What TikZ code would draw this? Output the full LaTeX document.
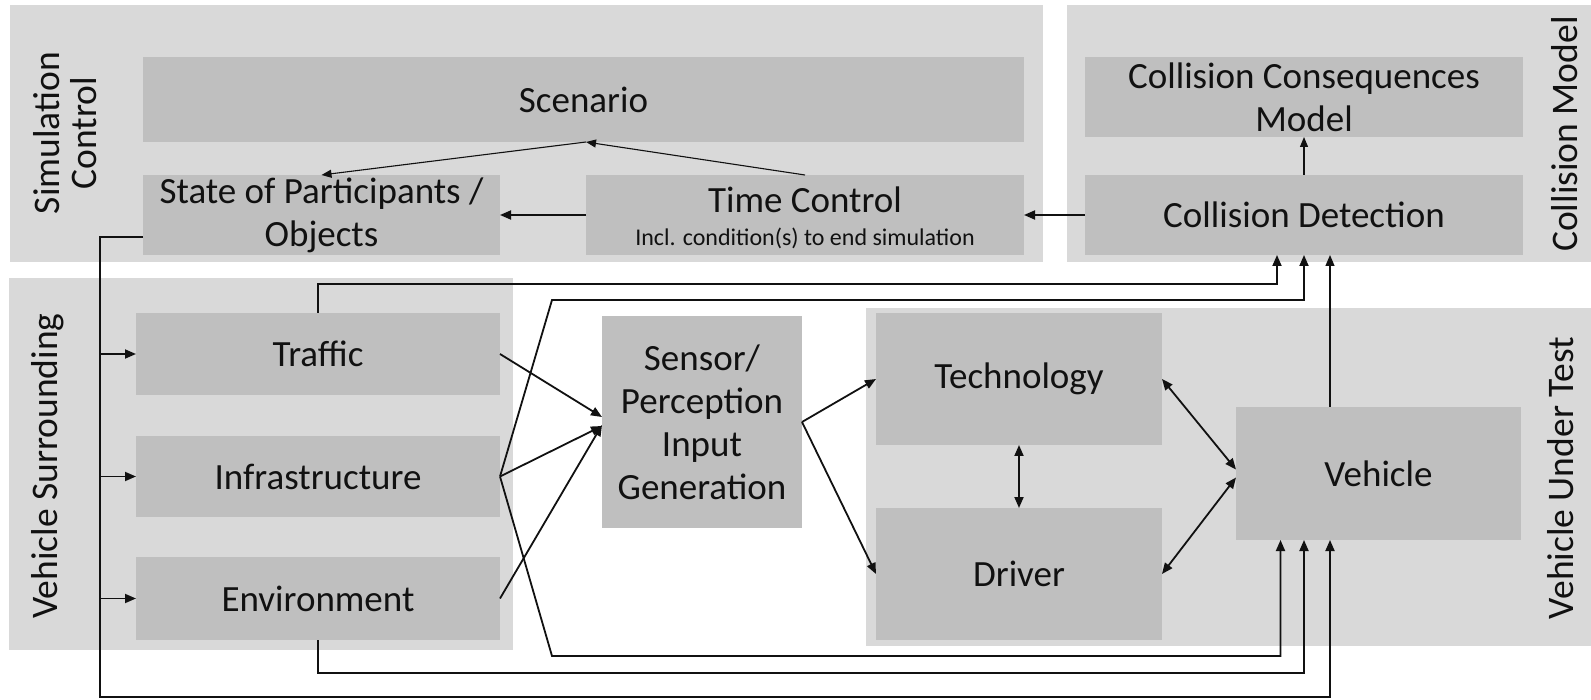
\documentclass[tikz,border=0pt]{standalone}
\usepackage{fontspec}
\setmainfont{Carlito}
\usetikzlibrary{arrows.meta,calc}
\definecolor{grp}{HTML}{D9D9D9}
\definecolor{boxc}{HTML}{BFBFBF}
\definecolor{ink}{HTML}{111111}
\begin{document}
\begin{tikzpicture}[x=1pt,y=-1pt,
  grpbox/.style={fill=grp,draw=none},
  blk/.style={fill=boxc,draw=none,inner sep=0pt,outer sep=0pt,align=center,text=ink,anchor=north west,font=\fontsize{37}{43}\selectfont},
  glabel/.style={rotate=90,align=center,text=ink,inner sep=0pt,font=\fontsize{37.5}{37}\selectfont},
  conn/.style={draw=ink,line width=1.8pt},
  thinconn/.style={draw=ink,line width=1.1pt},
  arr/.style={-{Triangle[length=11pt,width=9pt]}},
  sarr/.style={-{Triangle[length=10pt,width=8pt]}},
  darr/.style={{Triangle[length=11pt,width=9pt]}-{Triangle[length=11pt,width=9pt]}}
]
\useasboundingbox (0,0) rectangle (1591,700);
% groups
\path[grpbox] (10,5) rectangle (1043,262);
\path[grpbox] (1067,5) rectangle (1591,262);
\path[grpbox] (9,278) rectangle (513,650);
\path[grpbox] (866,308) rectangle (1591,646);
\node[glabel] (lsim) at (65,133) {Simulation\\Control};
\node[glabel] (lcol) at (1565,134) {Collision Model};
\node[glabel] (lsur) at (48,466) {Vehicle Surrounding};
\node[glabel] (lvut) at (1561,478) {Vehicle Under Test};
% blocks
\node[blk,minimum width=881pt,minimum height=85pt] (scen) at (143,57) {Scenario};
\node[blk,minimum width=357pt,minimum height=80pt] (sop) at (143,175) {State of Participants /\\Objects};
\node[blk,minimum width=438pt,minimum height=80pt,font=\fontsize{37}{33}\selectfont] (tc) at (586,175) {\rule{0pt}{32pt}Time Control\\{\fontsize{24}{33}\selectfont Incl. condition(s) to end simulation}};
\node[blk,minimum width=438pt,minimum height=80pt] (ccm) at (1085,57) {Collision Consequences\\Model};
\node[blk,minimum width=438pt,minimum height=80pt] (cd) at (1085,175) {Collision Detection};
\node[blk,minimum width=364pt,minimum height=82pt] (traf) at (136,313) {Traffic};
\node[blk,minimum width=364pt,minimum height=81pt] (infra) at (136,436) {Infrastructure};
\node[blk,minimum width=364pt,minimum height=83pt] (env) at (136,557) {Environment};
\node[blk,minimum width=200pt,minimum height=212pt] (sens) at (602,316) {Sensor/\\Perception\\Input\\Generation};
\node[blk,minimum width=286pt,minimum height=132pt] (tech) at (876,313) {Technology};
\node[blk,minimum width=286pt,minimum height=132pt] (drv) at (876,508) {Driver};
\node[blk,minimum width=285pt,minimum height=133pt] (veh) at (1236,407) {Vehicle};
% helper coordinates
\coordinate (cdL) at ($(cd.south)+(-27,0)$);
\coordinate (cdR) at ($(cd.south)+(26,0)$);
\coordinate (vehL) at ($(veh.south)+(-98,0)$);
\coordinate (vehM) at (cd.south |- veh.south);
\coordinate (vehR) at (cdR |- veh.south);
\coordinate (busx) at (100,0);
\coordinate (ku) at (552,300);
\coordinate (kd) at (552,656);
% simulation control
\draw[thinconn,sarr] (tc.north) -- (scen.south -| tc.west);
\draw[thinconn,sarr] (scen.south -| tc.west) -- (sop.north);
\draw[conn,arr] (tc.west) -- (sop.east);
\draw[conn,arr] (cd.west) -- (tc.east);
\draw[thinconn,sarr] (cd.north) -- (ccm.south);
% bus from state
\draw[conn,arr] ($(sop.west)+(0,22)$) -| (100,697) -| (vehR);
\draw[conn,arr] (traf.west -| busx) -- (traf.west);
\draw[conn,arr] (infra.west -| busx) -- (infra.west);
\draw[conn,arr] (env.west -| busx) -- (env.west);
% surrounding to collision detection / vehicle
\draw[conn,arr] (traf.north) -- ++(0,-29) -| (cdL);
\draw[conn,arr] (infra.east) -- (ku) -| (cd.south);
\draw[conn,arr] (infra.east) -- (kd) -| (vehL);
\draw[conn,arr] (env.south) -- ++(0,33) -| (vehM);
\draw[thinconn,arr] (veh.north -| cdR) -- (cdR);
% to sensor
\draw[conn,arr] (traf.east) -- ($(sens.west)+(0,-5)$);
\draw[conn,arr] (infra.east) -- ($(sens.west)+(0,4)$);
\draw[conn,arr] (env.east) -- ($(sens.west)+(0,3)$);
% sensor out
\draw[conn,arr] (sens.east) -- (tech.west);
\draw[conn,arr] (sens.east) -- (drv.west);
% vehicle under test
\draw[conn,darr] (tech.south) -- (drv.north);
\draw[conn,darr] (tech.east) -- ($(veh.west)+(0,-4)$);
\draw[conn,darr] (drv.east) -- ($(veh.west)+(0,4)$);
\end{tikzpicture}
\end{document}
